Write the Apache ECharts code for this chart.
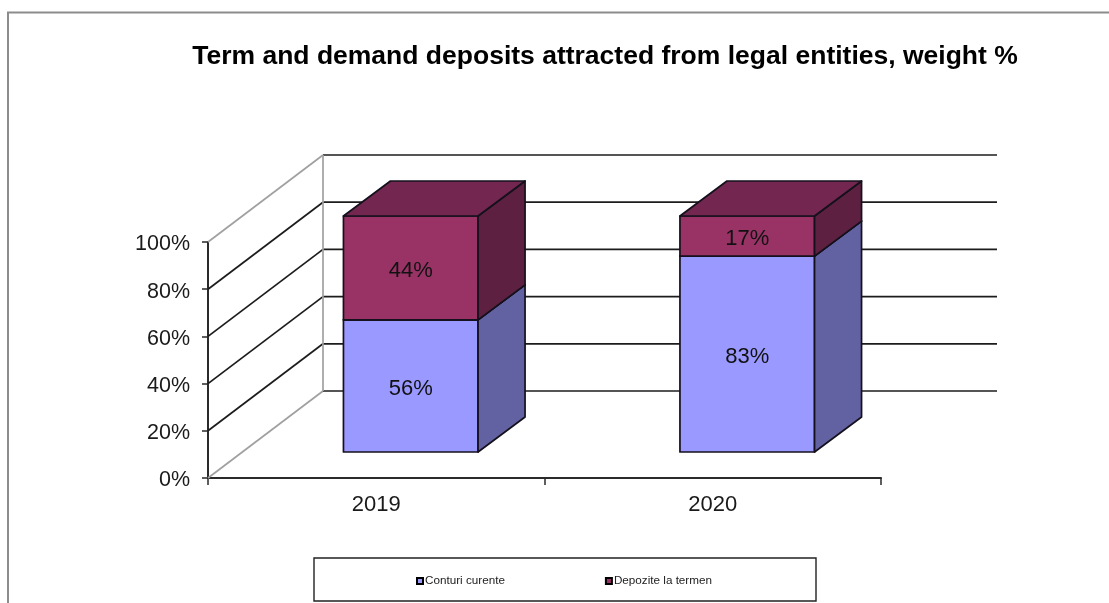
<!DOCTYPE html>
<html>
<head>
<meta charset="utf-8">
<style>html,body{margin:0;padding:0;background:#fff}#chart{width:1109px;height:603px}</style>
<script src="https://cdn.jsdelivr.net/npm/echarts@6/dist/echarts.min.js"></script>
</head>
<body>
<div id="chart"></div>
<script>
// Share of current accounts and term deposits per year, in percent
const years = ['2019', '2020'];
const currentAccounts = [56, 83];
const termDeposits = [44, 17];
const gridTicks = [0, 20, 40, 60, 80, 100];

// Oblique projection of the plot box, in pixels
const WALL_DX = 115, WALL_DY = -87;
const SHIFT_DX = 34.5, SHIFT_DY = -26;
const BAR_DX = 47, BAR_DY = -35;
const BAR_SHARE = 0.4;
const EDGE = '#14101c';
const FONT = '"Liberation Sans", Arial, sans-serif';

const chart = echarts.init(document.getElementById('chart'));

function poly(points, fill) {
  return {
    type: 'polygon',
    shape: { points },
    style: { fill, stroke: EDGE, lineWidth: 1.7, lineJoin: 'round' }
  };
}

function seg(x1, y1, x2, y2, stroke, lineWidth) {
  return { type: 'line', shape: { x1, y1, x2, y2 }, style: { stroke, lineWidth } };
}

// One box of the stack: front, side and top faces plus its centred label
function boxRenderer(front, side, top) {
  return function (params, api) {
    const cat = api.value(0);
    const start = api.value(1);
    const end = start + api.value(2);
    const w = api.size([1, 0])[0] * BAR_SHARE;
    const lo = api.coord([cat, start]);
    const hi = api.coord([cat, end]);
    const x0 = lo[0] + SHIFT_DX - w / 2;
    const x1 = x0 + w;
    const yb = lo[1] + SHIFT_DY;
    const yt = hi[1] + SHIFT_DY;
    const children = [
      poly([[x0, yt], [x1, yt], [x1, yb], [x0, yb]], front),
      poly([[x1, yt], [x1 + BAR_DX, yt + BAR_DY], [x1 + BAR_DX, yb + BAR_DY], [x1, yb]], side),
      poly([[x0, yt], [x0 + BAR_DX, yt + BAR_DY], [x1 + BAR_DX, yt + BAR_DY], [x1, yt]], top),
      {
        type: 'text',
        style: {
          x: (x0 + x1) / 2, y: (yt + yb) / 2 + 2.7,
          text: api.value(2) + '%',
          font: '22px ' + FONT,
          fill: '#111', align: 'center', verticalAlign: 'middle'
        }
      }
    ];
    return { type: 'group', children };
  };
}

// Side wall diagonals and back wall rules for every value tick
function wallRenderer(params, api) {
  const tick = api.value(0);
  const left = params.coordSys.x;
  const right = left + params.coordSys.width;
  const y = api.coord([0, tick])[1];
  const edgeTick = tick === gridTicks[0] || tick === gridTicks[gridTicks.length - 1];
  const bx = left + WALL_DX;
  const by = y + WALL_DY;
  return {
    type: 'group',
    children: [
      seg(left, y, bx, by, edgeTick ? '#a0a0a0' : '#1c1c1c', 1.7),
      seg(bx, by, right + WALL_DX + 1, by, '#1c1c1c', 1.7)
    ]
  };
}

function backCornerRenderer(params, api) {
  const left = params.coordSys.x + WALL_DX;
  const a = api.coord([0, api.value(0)])[1] + WALL_DY;
  const b = api.coord([0, api.value(1)])[1] + WALL_DY;
  return seg(left, a, left, b, '#a0a0a0', 1.7);
}

chart.setOption({
  animation: false,
  backgroundColor: '#fff',
  title: {
    text: 'Term and demand deposits attracted from legal entities, weight %',
    left: 600, top: 38, textAlign: 'center',
    textStyle: { fontFamily: FONT, fontSize: 26.5, fontWeight: 'bold', color: '#000' }
  },
  grid: { left: 208, top: 242, width: 673, height: 236 },
  xAxis: {
    type: 'category',
    data: years,
    axisLine: { lineStyle: { color: '#2a2a2a', width: 2 } },
    axisTick: { show: true, alignWithLabel: false, length: 7, lineStyle: { color: '#2a2a2a', width: 1.5 } },
    axisLabel: { fontFamily: FONT, fontSize: 22, color: '#1a1a1a', margin: 16 }
  },
  yAxis: {
    type: 'value',
    min: 0, max: 100, interval: 20,
    splitLine: { show: false },
    axisLine: { show: true, lineStyle: { color: '#2a2a2a', width: 2 } },
    axisTick: { show: true, length: 6, lineStyle: { color: '#2a2a2a', width: 1.5 } },
    axisLabel: {
      margin: 18,
      formatter: '{tick|{value}%}',
      rich: { tick: { fontFamily: FONT, fontSize: 21.5, color: '#1a1a1a', padding: [5, 0, 0, 0] } }
    }
  },
  legend: {
    left: 411, top: 570, itemWidth: 6, itemHeight: 6, itemGap: 100,
    icon: 'rect',
    textStyle: { fontFamily: FONT, fontSize: 11.7, color: '#222', padding: [0, 0, 0, -3] },
    data: ['Conturi curente', 'Depozite la termen']
  },
  graphic: [
    {
      type: 'rect', silent: true,
      shape: { x: 8, y: 12.5, width: 1300, height: 800 },
      style: { fill: 'none', stroke: '#8c8c8c', lineWidth: 2 }
    },
    {
      type: 'rect', silent: true,
      shape: { x: 314, y: 558, width: 502, height: 43 },
      style: { fill: 'none', stroke: '#222', lineWidth: 1.4 }
    }
  ],
  series: [
    {
      type: 'custom', name: 'walls', z: 1, silent: true,
      coordinateSystem: 'cartesian2d',
      renderItem: wallRenderer,
      encode: { y: 0 },
      data: gridTicks.map(t => [t])
    },
    {
      type: 'custom', name: 'corner', z: 1, silent: true,
      coordinateSystem: 'cartesian2d',
      renderItem: backCornerRenderer,
      encode: { y: [0, 1] },
      data: [[gridTicks[0], gridTicks[gridTicks.length - 1]]]
    },
    {
      type: 'custom', name: 'Conturi curente', z: 3,
      coordinateSystem: 'cartesian2d',
      itemStyle: { color: '#9999ff', borderColor: '#000', borderWidth: 2 },
      renderItem: boxRenderer('#9999ff', '#6262a2', '#7373bf'),
      encode: { x: 0, y: 2 },
      data: years.map((_, i) => [i, 0, currentAccounts[i]])
    },
    {
      type: 'custom', name: 'Depozite la termen', z: 3,
      coordinateSystem: 'cartesian2d',
      itemStyle: { color: '#993366', borderColor: '#000', borderWidth: 2 },
      renderItem: boxRenderer('#993366', '#5e2040', '#732750'),
      encode: { x: 0, y: 2 },
      data: years.map((_, i) => [i, currentAccounts[i], termDeposits[i]])
    }
  ]
});
</script>
</body>
</html>
